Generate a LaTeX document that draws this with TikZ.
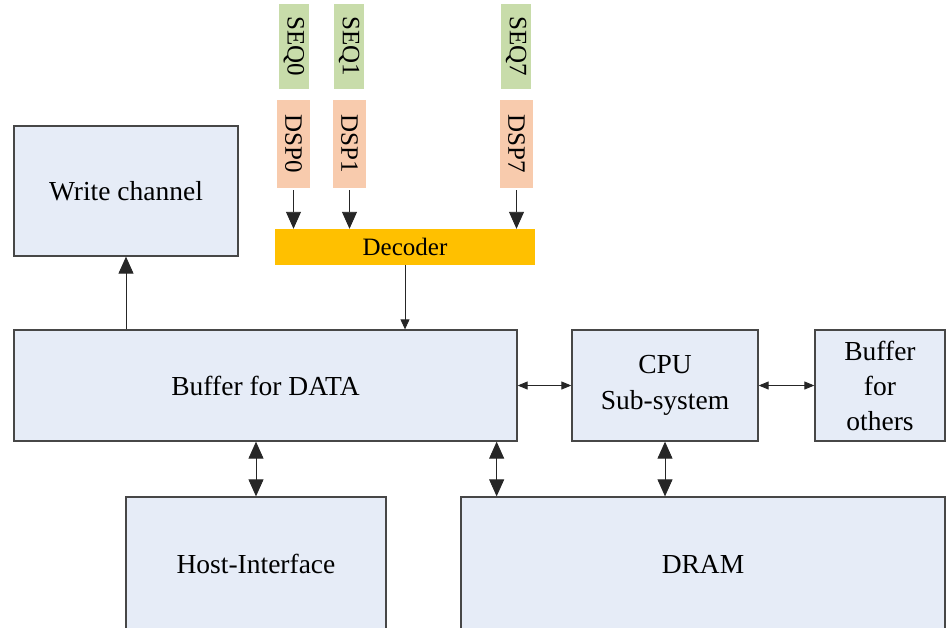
\documentclass[tikz,border=0pt]{standalone}
\usepackage{fontspec}
\setmainfont{Liberation Serif}
\usepackage{xcolor}
\usepackage{tikz}
\usetikzlibrary{arrows.meta,positioning,calc}

\definecolor{boxblue}{HTML}{E6ECF7}
\definecolor{boxline}{HTML}{474747}
\definecolor{seqgreen}{HTML}{C8DCAA}
\definecolor{dsporange}{HTML}{F8CBAD}
\definecolor{decgold}{HTML}{FFC000}

\begin{document}
\begin{tikzpicture}[x=1pt, y=-1pt,
block/.style={draw=boxline, fill=boxblue, line width=1.3pt, align=center, inner sep=0pt, font=\fontsize{27.5}{35}\selectfont},
seqbox/.style={fill=seqgreen, inner sep=0pt, minimum width=30pt, minimum height=85pt, font=\fontsize{25}{30}\selectfont},
dspbox/.style={fill=dsporange, inner sep=0pt, minimum width=33pt, minimum height=88pt, font=\fontsize{25}{30}\selectfont},
link/.style={-{Triangle[length=17pt,width=15pt]}, line width=0.9pt, black!85},
duplex/.style={{Triangle[length=17pt,width=15pt]}-{Triangle[length=17pt,width=15pt]}, line width=0.9pt, black!85},
thinduplex/.style={{Triangle[length=10pt,width=8pt]}-{Triangle[length=10pt,width=8pt]}, line width=0.9pt, black!85}
]
\useasboundingbox (0,0) rectangle (947,627);
\clip (0,0) rectangle (947,627);
\node[block, minimum width=224pt, minimum height=130pt] (wch) at (126,191) {Write channel};
\node[block, minimum width=503pt, minimum height=111pt] (data) at (265.5,385.5) {Buffer for DATA};
\node[block, minimum width=186pt, minimum height=111pt, right=53.7pt of data] (cpu) {CPU\\[1pt]Sub-system};
\node[block, minimum width=130pt, minimum height=111pt, right=55.7pt of cpu] (oth) {Buffer\\for\\others};
\node[block, minimum width=260pt, minimum height=134pt] (host) at (256,564) {Host-Interface};
\node[block, minimum width=484pt, minimum height=134pt] (dram) at (703,564) {DRAM};
\node[fill=decgold, minimum width=260pt, minimum height=36pt, inner sep=0pt, font=\fontsize{25}{30}\selectfont] (dec) at (405,247) {Decoder};
\node[seqbox] (seq0) at (294,46.5) {\rotatebox{-90}{SEQ0}};
\node[seqbox] (seq1) at (349,46.5) {\rotatebox{-90}{SEQ1}};
\node[seqbox] (seq7) at (516,46.5) {\rotatebox{-90}{SEQ7}};
\node[dspbox] (dsp0) at (293.5,144) {\rotatebox{-90}{DSP0}};
\node[dspbox] (dsp1) at (349.5,144) {\rotatebox{-90}{DSP1}};
\node[dspbox] (dsp7) at (516.5,144) {\rotatebox{-90}{DSP7}};
\foreach \d in {dsp0,dsp1,dsp7}
  \draw[link] ([yshift=-2pt]\d.south) -- (\d.south |- dec.north);
\draw[-{Triangle[length=10pt,width=9pt]}, line width=0.9pt, black!85] (dec.south) -- (dec.south |- data.north);
\draw[link] (wch.south |- data.north) -- (wch.south);
\draw[thinduplex] (data.east) -- (cpu.west);
\draw[thinduplex] (cpu.east) -- (oth.west);
\draw[duplex] (host.north |- data.south) -- (host.north);
\draw[duplex] ([xshift=-21pt]data.south east) -- ([xshift=-21pt]data.south east |- dram.north);
\draw[duplex] (cpu.south) -- (cpu.south |- dram.north);
\end{tikzpicture}
\end{document}
